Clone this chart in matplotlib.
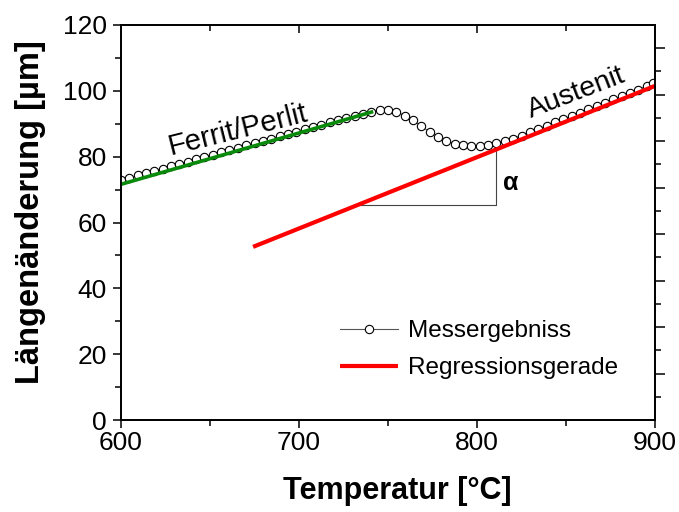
import matplotlib
matplotlib.use('Agg')
import matplotlib.pyplot as plt
from matplotlib.ticker import MultipleLocator, FixedLocator, NullFormatter

# ---- data ----
temperature = [600.0, 604.7, 609.4, 614.1, 618.8, 623.4, 628.1, 632.8, 637.5, 642.2,
               646.9, 651.6, 656.3, 660.9, 665.6, 670.3, 675.0, 679.7, 684.4, 689.1,
               693.8, 698.4, 703.1, 707.8, 712.5, 717.2, 721.9, 726.6, 731.3, 735.9,
               740.6, 745.3, 750.0, 754.7, 759.4, 764.1, 768.8, 773.4, 778.1, 782.8,
               787.5, 792.2, 796.9, 801.6, 806.3, 810.9, 815.6, 820.3, 825.0, 829.7,
               834.4, 839.1, 843.8, 848.4, 853.1, 857.8, 862.5, 867.2, 871.9, 876.6,
               881.3, 885.9, 890.6, 895.3, 899.0]
length_change = [73.0, 73.6, 74.3, 75.0, 75.7, 76.4, 77.1, 77.8, 78.5, 79.2,
                 79.9, 80.6, 81.3, 82.0, 82.7, 83.4, 84.1, 84.8, 85.5, 86.2,
                 86.9, 87.6, 88.3, 89.0, 89.7, 90.4, 91.1, 91.8, 92.5, 93.1,
                 93.7, 94.2, 94.1, 93.6, 92.5, 91.0, 89.3, 87.5, 86.0, 84.8,
                 84.0, 83.4, 83.1, 83.1, 83.5, 84.1, 84.8, 85.5, 86.4, 87.4,
                 88.4, 89.4, 90.4, 91.4, 92.4, 93.4, 94.4, 95.4, 96.4, 97.4,
                 98.4, 99.4, 100.4, 101.4, 102.3]

ferrit_fit_x = [600.0, 741.7]
ferrit_fit_y = [71.6, 93.7]
regression_x = [674.2, 900.0]
regression_y = [52.6, 101.5]
alpha_x = [732.8, 810.7, 810.7]
alpha_y = [65.3, 65.3, 82.2]

x_major = [600, 700, 800, 900]
y_major = [0, 20, 40, 60, 80, 100, 120]

plt.rcParams['font.family'] = ['Liberation Sans', 'DejaVu Sans']

fig = plt.figure(figsize=(6.79, 5.12), dpi=100)
ax = fig.add_axes([121 / 679, 92 / 512, 534 / 679, 395 / 512])

ax.plot(temperature, length_change, color='#555555', lw=0.8, marker='o', ms=6.0,
        mfc='white', mec='black', mew=0.8, label='Messergebniss', zorder=3)
ax.plot(ferrit_fit_x, ferrit_fit_y, color='#0a8a0a', lw=2.6, zorder=4,
        solid_capstyle='butt')
ax.plot(regression_x, regression_y, color='#ff0000', lw=3.0, zorder=4,
        label='Regressionsgerade', solid_capstyle='butt')
ax.plot(alpha_x, alpha_y, color='#444444', lw=0.8, zorder=2)

ax.text(665.7, 88.0, 'Ferrit/Perlit', rotation=14, ha='center', va='center', fontsize=21)
ax.text(856.0, 99.4, 'Austenit', rotation=21, ha='center', va='center', fontsize=20.5)
ax.text(819.0, 72.0, 'α', ha='center', va='center', fontsize=18, fontweight='bold')

ax.set_xlim(600, 900)
ax.set_ylim(0, 120)
ax.xaxis.set_major_locator(FixedLocator(x_major))
ax.xaxis.set_minor_locator(MultipleLocator(50))
ax.yaxis.set_major_locator(FixedLocator(y_major))
ax.yaxis.set_minor_locator(MultipleLocator(10))
ax.tick_params(which='major', direction='out', length=6, width=1.1, labelsize=19)
ax.tick_params(which='minor', direction='out', length=4, width=1.1)
ax.tick_params(axis='x', which='major', pad=2)
ax.tick_params(axis='y', which='major', pad=4)
for s in ax.spines.values():
    s.set_linewidth(1.1)

ax.set_xlabel('Temperatur [°C]', fontsize=22, fontweight='bold')
ax.set_ylabel('Längenänderung [µm]', fontsize=23.5, fontweight='bold')
ax.xaxis.set_label_coords(0.518, -0.142)
ax.yaxis.set_label_coords(-0.14, 0.527)

# top axis: inward ticks, no labels
axt = ax.twiny()
axt.set_xlim(600, 900)
axt.xaxis.set_major_locator(FixedLocator([700, 800]))
axt.xaxis.set_minor_locator(FixedLocator([650, 750, 850]))
axt.xaxis.set_major_formatter(NullFormatter())
axt.tick_params(which='major', direction='in', length=6, width=1.1)
axt.tick_params(which='minor', direction='in', length=4, width=1.1)

# right axis: outward ticks, no labels
axr = ax.twinx()
axr.set_ylim(0, 17)
axr.yaxis.set_major_locator(FixedLocator([2, 4, 6, 8, 10, 12, 14, 16]))
axr.yaxis.set_minor_locator(FixedLocator([1, 3, 5, 7, 9, 11, 13, 15]))
axr.yaxis.set_major_formatter(NullFormatter())
axr.tick_params(which='major', direction='out', length=7, width=1.1)
axr.tick_params(which='minor', direction='out', length=4, width=1.1)
for a in (axt, axr):
    for s in a.spines.values():
        s.set_linewidth(1.1)

h, l = ax.get_legend_handles_labels()
fig.legend(h, l, loc='upper left', bbox_to_anchor=(340 / 679, 1 - 320 / 512),
           frameon=False, fontsize=17.5, handlelength=2.4, handletextpad=0.4,
           labelspacing=0.62, borderpad=0, borderaxespad=0)

fig.savefig('out.png', dpi=100)
